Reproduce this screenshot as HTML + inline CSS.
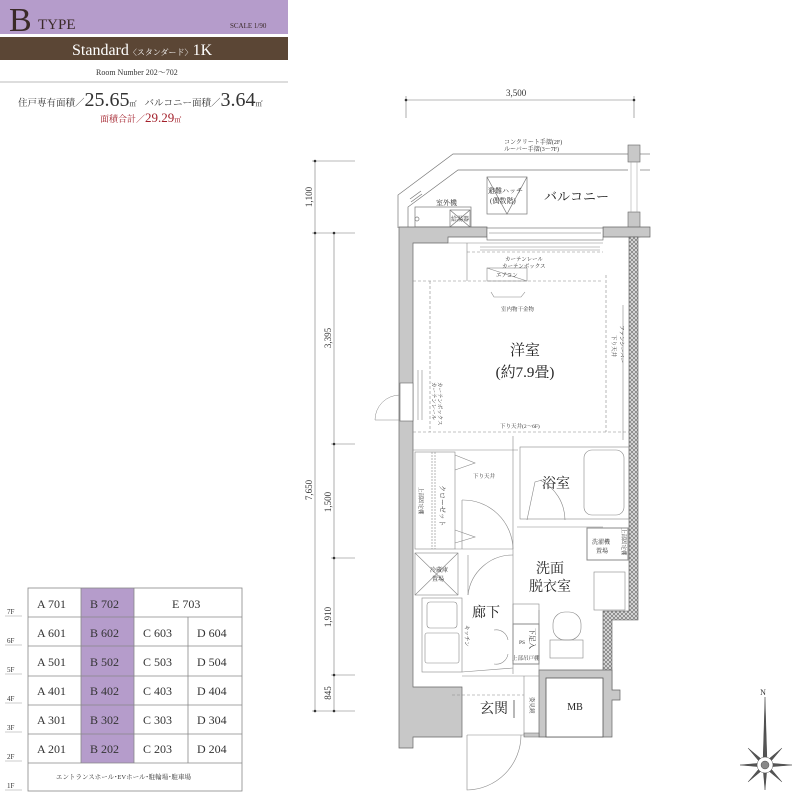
<!DOCTYPE html>
<html><head><meta charset="utf-8"><style>
html,body{margin:0;padding:0;background:#fff;}
svg{display:block;font-family:"Liberation Serif","Noto Serif CJK SC",serif;}
</style></head><body>
<svg width="800" height="800" viewBox="0 0 800 800" xmlns="http://www.w3.org/2000/svg">
<!-- header -->
<rect x="0" y="0" width="288" height="34" fill="#b59ccb"/>
<text x="9" y="31" font-size="34" fill="#3a2a28">B</text>
<text x="38" y="29" font-size="15" fill="#3a2a28">TYPE</text>
<text x="230" y="28" font-size="7" fill="#3a2a28">SCALE 1/90</text>
<rect x="0" y="37" width="288" height="23" fill="#5b4635"/>
<text x="72" y="55" font-size="16" fill="#fff">Standard<tspan font-size="8">〈スタンダード〉</tspan>1K</text>
<text x="96" y="75" font-size="8" fill="#333">Room Number 202〜702</text>
<line x1="0" y1="82" x2="288" y2="82" stroke="#bbb" stroke-width="1"/>
<text x="18" y="106" font-size="9.5" fill="#333">住戸専有面積／<tspan font-size="20">25.65</tspan><tspan font-size="7">㎡</tspan><tspan dx="8">バルコニー面積／</tspan><tspan font-size="20">3.64</tspan><tspan font-size="7">㎡</tspan></text>
<text x="100" y="122" font-size="9" fill="#a3202b">面積合計／<tspan font-size="13">29.29</tspan><tspan font-size="7">㎡</tspan></text>

<!-- table -->
<g stroke="#888" stroke-width="0.8" fill="none">
<rect x="81" y="588" width="53" height="175" fill="#b59ccb" stroke="none"/>
<rect x="28" y="588" width="214" height="203"/>
<line x1="28" y1="617" x2="242" y2="617"/><line x1="28" y1="646" x2="242" y2="646"/>
<line x1="28" y1="676" x2="242" y2="676"/><line x1="28" y1="705" x2="242" y2="705"/>
<line x1="28" y1="734" x2="242" y2="734"/><line x1="28" y1="763" x2="242" y2="763"/>
<line x1="81" y1="588" x2="81" y2="763"/><line x1="134" y1="588" x2="134" y2="763"/>
<line x1="188" y1="617" x2="188" y2="763"/>
</g>
<g font-size="12" fill="#333">
<text x="37" y="608">A 701</text><text x="90" y="608">B 702</text><text x="172" y="608">E 703</text>
<text x="37" y="637">A 601</text><text x="90" y="637">B 602</text><text x="143" y="637">C 603</text><text x="197" y="637">D 604</text>
<text x="37" y="666">A 501</text><text x="90" y="666">B 502</text><text x="143" y="666">C 503</text><text x="197" y="666">D 504</text>
<text x="37" y="695">A 401</text><text x="90" y="695">B 402</text><text x="143" y="695">C 403</text><text x="197" y="695">D 404</text>
<text x="37" y="724">A 301</text><text x="90" y="724">B 302</text><text x="143" y="724">C 303</text><text x="197" y="724">D 304</text>
<text x="37" y="753">A 201</text><text x="90" y="753">B 202</text><text x="143" y="753">C 203</text><text x="197" y="753">D 204</text>
</g>
<text x="56" y="779" font-size="6.5" fill="#333">エントランスホール･EVホール･駐輪場･駐車場</text>
<g font-size="7" fill="#333">
<text x="7" y="614">7F</text><text x="7" y="643">6F</text><text x="7" y="672">5F</text><text x="7" y="701">4F</text><text x="7" y="730">3F</text><text x="7" y="759">2F</text><text x="7" y="788">1F</text>
</g>
<g stroke="#999" stroke-width="0.6"><line x1="5" y1="616" x2="22" y2="616"/><line x1="5" y1="645" x2="22" y2="645"/><line x1="5" y1="674" x2="22" y2="674"/><line x1="5" y1="703" x2="22" y2="703"/><line x1="5" y1="732" x2="22" y2="732"/><line x1="5" y1="761" x2="22" y2="761"/><line x1="5" y1="790" x2="22" y2="790"/></g>

<!-- dimensions -->
<g stroke="#777" stroke-width="0.6" fill="none">
<line x1="406" y1="100" x2="634" y2="100"/><line x1="406" y1="96" x2="406" y2="118"/><line x1="634" y1="96" x2="634" y2="118"/>
<line x1="315" y1="161" x2="315" y2="711"/><line x1="334" y1="233" x2="334" y2="711"/>
<line x1="312" y1="161" x2="355" y2="161"/><line x1="312" y1="233" x2="355" y2="233"/>
<line x1="331" y1="444" x2="355" y2="444"/><line x1="331" y1="558" x2="355" y2="558"/>
<line x1="331" y1="675" x2="355" y2="675"/><line x1="312" y1="711" x2="355" y2="711"/>
</g>
<g fill="#333">
<circle cx="406" cy="100" r="1.3"/><circle cx="634" cy="100" r="1.3"/>
<circle cx="315" cy="161" r="1.3"/><circle cx="315" cy="233" r="1.3"/><circle cx="334" cy="233" r="1.3"/>
<circle cx="334" cy="444" r="1.3"/><circle cx="334" cy="558" r="1.3"/><circle cx="334" cy="675" r="1.3"/>
<circle cx="315" cy="711" r="1.3"/><circle cx="334" cy="711" r="1.3"/>
</g>
<text x="506" y="96" font-size="9" fill="#333">3,500</text>
<g font-size="9" fill="#333">
<text transform="translate(312,197) rotate(-90)" text-anchor="middle">1,100</text>
<text transform="translate(312,490) rotate(-90)" text-anchor="middle">7,650</text>
<text transform="translate(331,338) rotate(-90)" text-anchor="middle">3,395</text>
<text transform="translate(331,502) rotate(-90)" text-anchor="middle">1,500</text>
<text transform="translate(331,617) rotate(-90)" text-anchor="middle">1,910</text>
<text transform="translate(331,693) rotate(-90)" text-anchor="middle">845</text>
</g>

<!-- balcony -->
<g stroke="#777" stroke-width="0.7" fill="none">
<polyline points="398,228 398,195 453,154 628,154"/>
<polyline points="408,228 408,207 458,170 628,170"/>
<line x1="640" y1="154" x2="650" y2="154"/><line x1="640" y1="170" x2="650" y2="170"/>
<rect x="487" y="177" width="40" height="37"/>
<polyline points="487,177 507,214 527,177"/>
<rect x="415" y="207" width="56" height="20"/>
<rect x="450" y="210" width="20" height="17"/>
<line x1="450" y1="210" x2="470" y2="227"/><line x1="470" y1="210" x2="450" y2="227"/>
<circle cx="417" cy="219" r="2"/>
<line x1="410" y1="199" x2="421" y2="191"/><line x1="411" y1="202" x2="422" y2="194"/>
</g>
<rect x="628" y="145" width="12" height="17" fill="#c8c8c8" stroke="#666" stroke-width="0.6"/>
<rect x="628" y="212" width="12" height="25" fill="#c8c8c8" stroke="#666" stroke-width="0.6"/>
<g stroke="#999" stroke-width="0.5"><line x1="631" y1="162" x2="631" y2="212"/><line x1="637" y1="162" x2="637" y2="212"/></g>
<g font-size="6" fill="#333">
<text x="504" y="144">コンクリート手摺(2F)</text>
<text x="504" y="151">ルーバー手摺(3〜7F)</text>
<text x="488" y="193" font-size="7">避難ハッチ</text>
<text x="490" y="203" font-size="7">(偶数階)</text>
<text x="436" y="205" font-size="7">室外機</text>
<text x="451" y="221">給湯器</text>
</g>
<text x="544" y="201" font-size="13" fill="#222">バルコニー</text>

<!-- walls -->
<path d="M399,227 L487,227 L487,237 L448,237 L448,243 L413,243 L413,687 L462,687 L462,737 L413,737 L413,748 L399,748 Z" fill="#c8c8c8" stroke="#666" stroke-width="0.7"/>
<path d="M603,227 L650,227 L650,237 L629,237 L629,237 L603,237 Z" fill="#c8c8c8" stroke="#666" stroke-width="0.7"/>
<defs><pattern id="h" width="4" height="4" patternUnits="userSpaceOnUse"><rect width="4" height="4" fill="#ddd"/><path d="M0,0 L4,4 M4,0 L0,4" stroke="#666" stroke-width="0.6"/></pattern></defs>
<path d="M629,237 L638,237 L638,620 L612,620 L612,690 L603,690 L603,611 L629,611 Z" fill="url(#h)" stroke="#555" stroke-width="0.6"/>
<!-- MB -->
<path d="M539,670 L612,670 L612,690 L620,690 L620,700 L612,700 L612,737 L539,737 Z" fill="#c8c8c8" stroke="#666" stroke-width="0.7"/>
<rect x="546" y="678" width="57" height="59" fill="#fff" stroke="#555" stroke-width="0.8"/>
<path d="M524,737 L539,737 L539,733 L524,733 Z" fill="#c8c8c8" stroke="#666" stroke-width="0.6"/>
<!-- top window -->
<rect x="487" y="228" width="116" height="12" fill="#fff" stroke="#666" stroke-width="0.6"/>
<line x1="489" y1="233" x2="601" y2="233" stroke="#777" stroke-width="0.5"/>
<!-- left window/door -->
<rect x="400" y="383" width="13" height="38" fill="#fff" stroke="#666" stroke-width="0.6"/>
<path d="M400,420 L375,420 A25,25 0 0 1 400,395" fill="none" stroke="#888" stroke-width="0.5"/>

<!-- interior lines -->
<g stroke="#888" stroke-width="0.6" fill="none">
<line x1="413" y1="281" x2="603" y2="281" stroke-dasharray="3,2"/>
<line x1="467" y1="252" x2="603" y2="252" stroke-dasharray="3,2"/>
<line x1="430" y1="281" x2="430" y2="432" stroke-dasharray="3,2"/>
<line x1="606" y1="275" x2="606" y2="432" stroke-dasharray="3,2"/>
<line x1="413" y1="432" x2="629" y2="432" stroke-dasharray="3,2"/>
<line x1="467" y1="243" x2="467" y2="281"/>
<line x1="448" y1="243" x2="603" y2="243"/>
<line x1="480" y1="247" x2="600" y2="247"/><line x1="480" y1="250" x2="600" y2="250"/>
<rect x="487" y="268" width="40" height="13"/><line x1="487" y1="268" x2="527" y2="281"/>
<polyline points="491,292 494,297 521,297 525,292"/>
<line x1="623" y1="305" x2="623" y2="440"/>
<line x1="418" y1="370" x2="418" y2="420"/><line x1="422" y1="370" x2="422" y2="420"/>
<line x1="413" y1="450" x2="518" y2="450"/>
<rect x="415" y="452" width="40" height="97"/>
<line x1="432" y1="452" x2="432" y2="549" stroke-dasharray="2,1"/><line x1="435" y1="452" x2="435" y2="549" stroke-dasharray="2,1"/>
<polyline points="455,455 475,463 455,470"/>
<polyline points="455,530 475,537 455,543"/>
<path d="M462,500 L462,549 M462,500 A50,50 0 0 1 513,549" />
<line x1="455" y1="549" x2="513" y2="549"/>
<line x1="513" y1="436" x2="513" y2="674"/>
<rect x="415" y="553" width="43" height="42"/>
<line x1="415" y1="553" x2="458" y2="595"/><line x1="458" y1="553" x2="415" y2="595"/>
<rect x="422" y="598" width="40" height="74"/>
<rect x="427" y="602" width="30" height="26" rx="3"/>
<rect x="425" y="633" width="34" height="30" rx="2"/>
<path d="M468,595 A45,45 0 0 1 513,555"/><line x1="468" y1="555" x2="468" y2="595"/>
<line x1="462" y1="672" x2="513" y2="668"/>
<rect x="520" y="447" width="109" height="72"/>
<rect x="584" y="450" width="40" height="65" rx="8"/>
<path d="M527,520 L535,482 L542,480 M565,520 A45,45 0 0 0 540,480"/>
<line x1="517" y1="527" x2="603" y2="527"/>
<rect x="587" y="528" width="41" height="32" stroke-width="1"/>
<rect x="594" y="572" width="31" height="38"/>
<rect x="513" y="604" width="26" height="20"/>
<rect x="513" y="624" width="26" height="40" stroke-width="1"/>
<path d="M494,630 A12,12 0 0 1 508,640 M494,664 A12,12 0 0 0 508,654"/>
<rect x="553" y="612" width="28" height="28" rx="12"/>
<rect x="550" y="640" width="33" height="18"/>
<line x1="539" y1="610" x2="539" y2="674"/>
<line x1="462" y1="676" x2="539" y2="676"/>
<line x1="452" y1="695" x2="524" y2="695" stroke-dasharray="3,2"/>
<line x1="524" y1="676" x2="524" y2="735"/>
<line x1="467" y1="735" x2="524" y2="735"/>
<path d="M467,735 L467,790 A55,55 0 0 0 521,735"/>
<line x1="514" y1="700" x2="514" y2="718" stroke-width="1.2"/>
</g>

<!-- room labels -->
<g fill="#222">
<text x="525" y="355" font-size="15" text-anchor="middle">洋室</text>
<text x="525" y="377" font-size="15" text-anchor="middle">(約7.9畳)</text>
<text x="556" y="488" font-size="14" text-anchor="middle">浴室</text>
<text x="550" y="573" font-size="14" text-anchor="middle">洗面</text>
<text x="550" y="591" font-size="14" text-anchor="middle">脱衣室</text>
<text x="486" y="617" font-size="14" text-anchor="middle">廊下</text>
<text x="494" y="713" font-size="14" text-anchor="middle">玄関</text>
<text x="575" y="710" font-size="10" text-anchor="middle">MB</text>
</g>
<g font-size="5.5" fill="#333">
<text x="505" y="261">カーテンレール</text><text x="502" y="268">カーテンボックス</text>
<text x="496" y="277">エアコン</text>
<text x="501" y="311">室内物干金物</text>
<text x="500" y="428">下り天井(2〜6F)</text>
<text x="473" y="478">下り天井</text>
<text x="519" y="644">PS</text>
<text x="512" y="660">上部吊戸棚</text>
<text x="430" y="572" font-size="6">冷蔵庫</text><text x="432" y="581" font-size="6">置場</text>
<text x="592" y="544" font-size="6">洗濯機</text><text x="596" y="553" font-size="6">置場</text>
<text transform="translate(620,325) rotate(90)">ファンシーバー</text>
<text transform="translate(612,335) rotate(90)">下り天井</text>
<text transform="translate(438,382) rotate(90)">カーテンボックス</text>
<text transform="translate(432,382) rotate(90)">カーテンレール</text>
<text transform="translate(419,487) rotate(90)">上部固定棚</text>
<text transform="translate(440,485) rotate(90)" font-size="7">クローゼット</text>
<text transform="translate(465,625) rotate(90)">キッチン</text>
<text transform="translate(622,528) rotate(90)">上部固定棚</text>
<text transform="translate(530,628) rotate(90)" font-size="7">下足入</text>
<text transform="translate(530,697) rotate(90)">姿見鏡</text>
</g>

<!-- compass -->
<text x="763" y="695" font-size="8" fill="#333" text-anchor="middle">N</text>
<g fill="#555" stroke="#333" stroke-width="0.4">
<path d="M765,697 L767,762 L763,762 Z"/>
<path d="M765,790 L767,768 L763,768 Z"/>
<path d="M740,765 L762,763 L762,767 Z"/>
<path d="M792,765 L768,763 L768,767 Z"/>
<path d="M748,748 L766,763 L763,766 Z"/><path d="M782,748 L767,766 L764,763 Z"/>
<path d="M748,782 L763,764 L766,767 Z"/><path d="M782,782 L764,767 L767,764 Z"/>
<circle cx="765" cy="765" r="8" fill="#fff"/>
<circle cx="765" cy="765" r="4" fill="#888"/>
</g>
</svg>
</body></html>
